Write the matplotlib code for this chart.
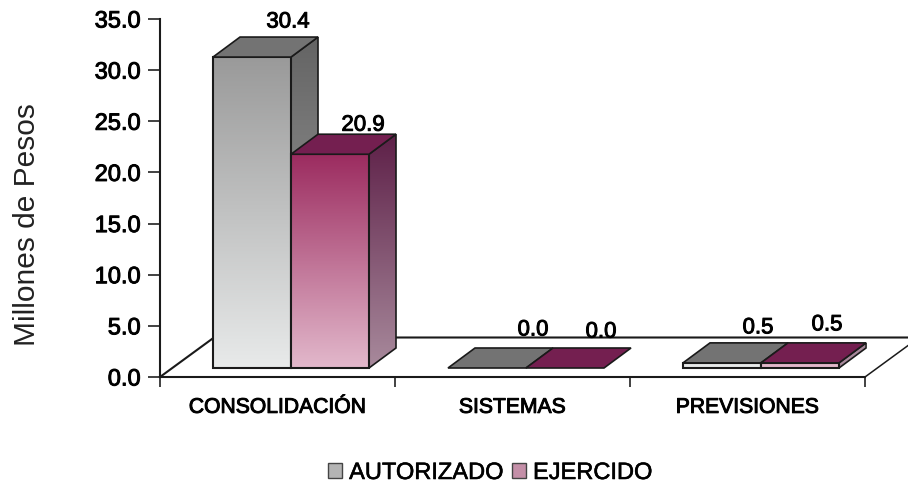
import numpy as np
import matplotlib
matplotlib.use('Agg')
import matplotlib.pyplot as plt
import matplotlib.patheffects as pe
from matplotlib.colors import LinearSegmentedColormap
from matplotlib.patches import Polygon, Patch

categorias = ['CONSOLIDACIÓN', 'SISTEMAS', 'PREVISIONES']
autorizado = [30.4, 0.0, 0.5]
ejercido = [20.9, 0.0, 0.5]
yticks = [0, 5, 10, 15, 20, 25, 30, 35]

plt.rcParams['font.family'] = ['Liberation Sans', 'DejaVu Sans']

W, H = 908, 485
fig = plt.figure(figsize=(W/100, H/100), dpi=100)
ax = fig.add_axes([160/W, 1-378/H, 705/W, 358/H])
ax.patch.set_visible(False)

# pixels -> data units
px_x = 3/705.
px_y = 35/358.
floor_dx, floor_dy = 54*px_x, 39.5*px_y
bar_dx, bar_dy = 27*px_x, 20*px_y
lift_x, lift_y = 13.5*px_x, 9*px_y
ancho = 78*px_x

front_g = LinearSegmentedColormap.from_list('fg', ['#e8eaea', '#9a9a9a'])
side_g = LinearSegmentedColormap.from_list('sg', ['#a8a8a8', '#646464'])
front_p = LinearSegmentedColormap.from_list('fp', ['#e2b8cb', '#9c2c60'])
side_p = LinearSegmentedColormap.from_list('sp', ['#a88a9c', '#5e2048'])


def gradient(cmap, x0, x1, y0, y1, tmax, clip, z):
    grad = np.linspace(tmax, 0, 128).reshape(-1, 1)
    im = ax.imshow(grad, cmap=cmap, vmin=0, vmax=1, aspect='auto',
                   extent=(x0, x1, y0, y1), zorder=z)
    im.set_clip_path(clip)


def bar3d(x, v, vmax, front, side, top_col, z):
    x0 = x + lift_x
    x1 = x0 + ancho
    b = lift_y
    t = b + v
    if v > 0:
        side_poly = Polygon([(x1, b), (x1+bar_dx, b+bar_dy), (x1+bar_dx, t+bar_dy), (x1, t)],
                            closed=True, fc='none', ec='#1a1a1a', lw=1.2, zorder=z+0.1, clip_on=False)
        ax.add_patch(side_poly)
        gradient(side, x1, x1+bar_dx, b, t+bar_dy, v/vmax, side_poly, z)
        front_poly = Polygon([(x0, b), (x1, b), (x1, t), (x0, t)],
                             closed=True, fc='none', ec='#1a1a1a', lw=1.5, zorder=z+0.3, clip_on=False)
        ax.add_patch(front_poly)
        gradient(front, x0, x1, b, t, v/vmax, front_poly, z+0.2)
    ax.add_patch(Polygon([(x0, t), (x1, t), (x1+bar_dx, t+bar_dy), (x0+bar_dx, t+bar_dy)],
                         closed=True, fc=top_col, ec='#1a1a1a', lw=1.2, zorder=z+0.4, clip_on=False))


# floor
ax.plot([0, floor_dx, 3+floor_dx], [0, floor_dy, floor_dy], color='#1a1a1a', lw=1.5, clip_on=False, zorder=2)
ax.plot([3, 3+floor_dx], [0, floor_dy], color='#1a1a1a', lw=1.1, clip_on=False, zorder=2)

for i in range(len(categorias)):
    bar3d(i + (1-2*ancho)/2, autorizado[i], max(autorizado), front_g, side_g, '#737373', 3)
for i in range(len(categorias)):
    bar3d(i + 0.5, ejercido[i], max(ejercido), front_p, side_p, '#741f50', 4)

ax.set_xlim(0, 3)
ax.set_ylim(0, 35)

for s in ['top', 'right']:
    ax.spines[s].set_visible(False)
for s in ['left', 'bottom']:
    ax.spines[s].set_linewidth(1.5)
    ax.spines[s].set_color('#1a1a1a')
    ax.spines[s].set_zorder(2)

stroke = [pe.withStroke(linewidth=0.7, foreground='black')]

ax.set_yticks(yticks)
ax.set_yticklabels(['%.1f' % v for v in yticks], fontsize=17, path_effects=stroke)
ax.tick_params(axis='y', length=9, width=1.3, color='#333333', pad=5)
ax.set_xticks(range(len(categorias)+1))
ax.set_xticklabels([])
ax.set_xticks(np.arange(len(categorias))+0.5, categorias, minor=True, fontsize=15.2, path_effects=stroke)
ax.tick_params(axis='x', which='major', length=7, width=1.3, color='#333333')
ax.tick_params(axis='x', which='minor', length=0, pad=15)

fig.text(27/W, 1-225/H, 'Millones de Pesos', rotation=90, fontsize=21.5, color='#222222',
         ha='center', va='center')

# value labels, offsets set by hand in the original
off_a = [(36, 35), (46, 38), (36, 35)]
off_e = [(33, 29), (36, 36), (27, 38)]
for i in range(len(categorias)):
    ax.annotate('%.1f' % autorizado[i], (i + (1-2*ancho)/2 + lift_x + ancho/2, lift_y + autorizado[i]),
                xytext=(off_a[i][0]*0.72, off_a[i][1]*0.72), textcoords='offset points',
                ha='center', va='center', fontsize=16, annotation_clip=False, zorder=6, path_effects=stroke)
    ax.annotate('%.1f' % ejercido[i], (i + 0.5 + lift_x + ancho/2, lift_y + ejercido[i]),
                xytext=(off_e[i][0]*0.72, off_e[i][1]*0.72), textcoords='offset points',
                ha='center', va='center', fontsize=16, annotation_clip=False, zorder=6, path_effects=stroke)

handles = [Patch(fc='#b4b4b4', ec='#444444', label='AUTORIZADO'),
           Patch(fc='#c48fa8', ec='#444444', label='EJERCIDO')]
leg = fig.legend(handles=handles, loc='center', bbox_to_anchor=(490/W, 1-474/H), ncol=2, frameon=False,
                 fontsize=17, handlelength=0.6, handleheight=0.6, handletextpad=0.3,
                 columnspacing=0.35, borderpad=0, labelspacing=0)
for t in leg.get_texts():
    t.set_path_effects([pe.withStroke(linewidth=0.4, foreground='black')])

fig.savefig('out.png', dpi=100)
